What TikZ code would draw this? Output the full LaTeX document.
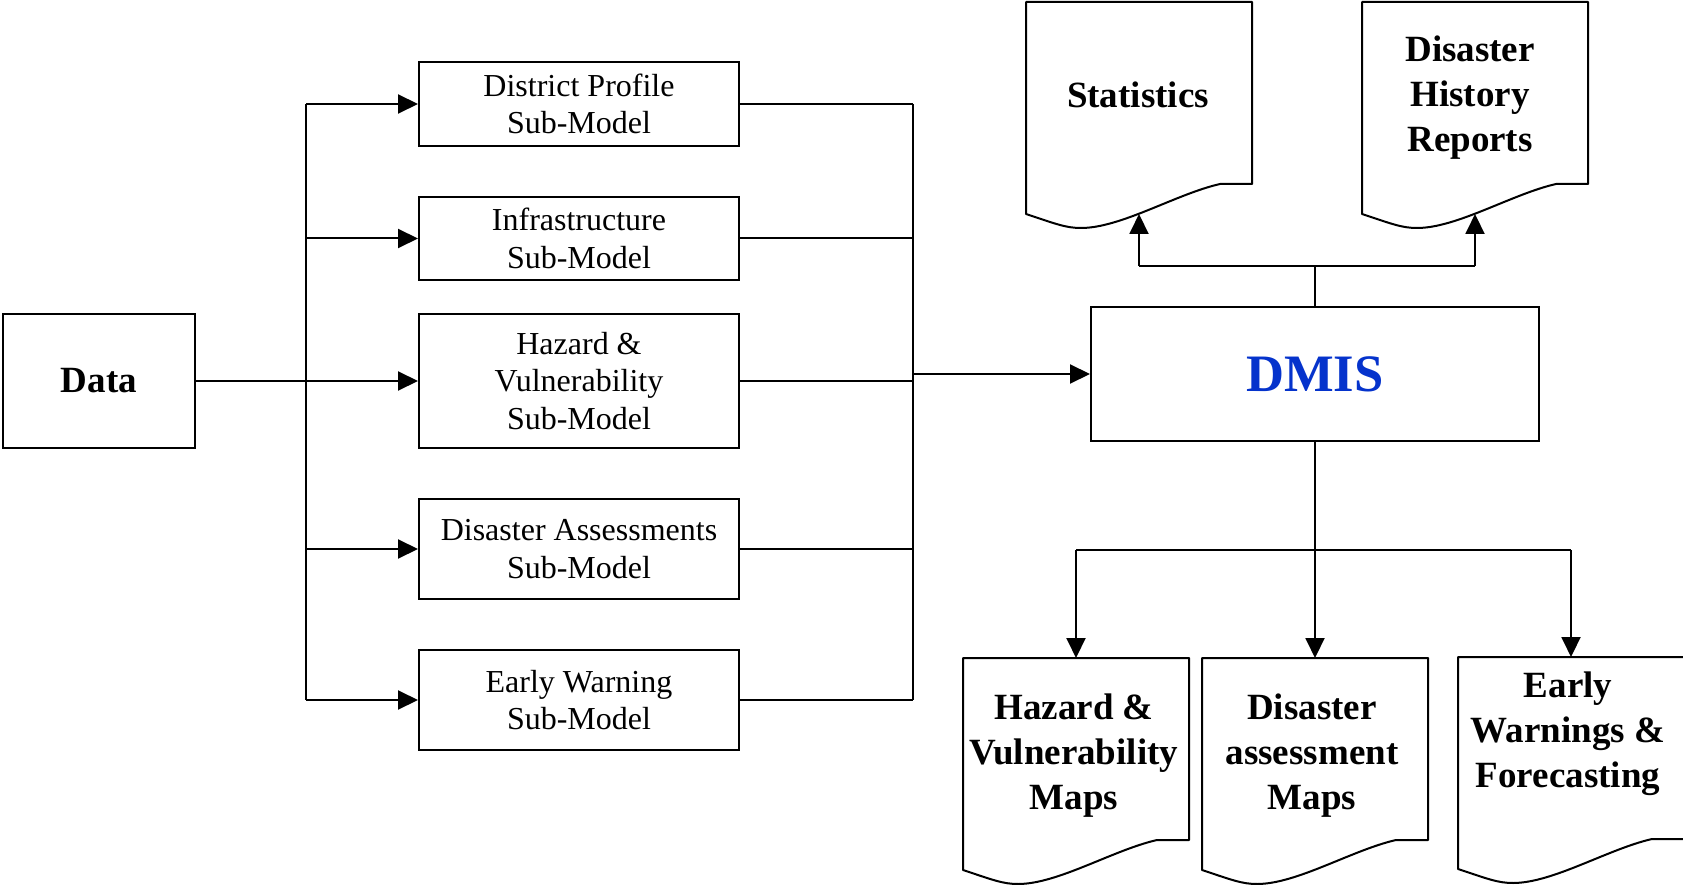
\documentclass[tikz,border=0pt]{standalone}
\usepackage{fontspec}
\setmainfont{Liberation Serif}
\usetikzlibrary{arrows.meta,calc}
\definecolor{dmisblue}{RGB}{5,51,204}
\newcommand\docoutline[1]{%
  \draw[line width=2pt, line join=round] (#1.south east) -- (#1.north east) -- (#1.north west)
    -- ($(#1.south west)+(0,30)$)
    .. controls ($(#1.south west)+(30,40)$) and ($(#1.south west)+(40,44)$) .. ($(#1.south west)+(55,44)$)
    .. controls ($(#1.south west)+(95,44)$) and ($(#1.south west)+(150,10)$) .. ($(#1.south west)+(194,0)$)
    -- cycle;}
\begin{document}
\begin{tikzpicture}[x=1pt,y=-1pt,
  line width=2pt,
  subbox/.style={draw, line width=2pt, minimum width=320pt, anchor=north west, align=center,
    inner sep=0pt, font=\fontsize{32}{37.6}\selectfont},
  bigbox/.style={draw, line width=2pt, anchor=north west, inner sep=0pt},
  docbody/.style={minimum width=224pt, minimum height=180pt, anchor=north west, inner sep=0pt},
  doctext/.style={align=center, inner sep=0pt, font=\fontsize{37}{45}\selectfont\bfseries},
  arr/.style={-{Triangle[length=20pt,width=19pt]}},
  conn/.style={line width=2pt}
]
\useasboundingbox (0,0) rectangle (1683,885);

% left part
\node[bigbox, minimum width=192pt, minimum height=134pt, font=\fontsize{37}{45}\selectfont\bfseries] (data) at (2,313) {Data};

\node[subbox, minimum height=84pt]  (dp) at (418,61)  {District Profile\\Sub-Model};
\node[subbox, minimum height=83pt]  (inf) at (418,196) {Infrastructure\\Sub-Model};
\node[subbox, minimum height=134pt] (hz) at (418,313) {Hazard \&\\Vulnerability\\Sub-Model};
\node[subbox, minimum height=100pt] (da) at (418,498) {Disaster Assessments\\Sub-Model};
\node[subbox, minimum height=100pt] (ew) at (418,649) {Early Warning\\Sub-Model};

\node[bigbox, minimum width=448pt, minimum height=134pt, text=dmisblue,
  font=\fontsize{52.6}{60}\selectfont\bfseries] (dmis) at (1090,306) {DMIS};

% documents
\node[docbody] (stat) at (1026,2) {};
\node[docbody] (hist) at (1362,2) {};
\node[docbody] (hmap) at (963,658) {};
\node[docbody] (dmap) at (1202,658) {};
\node[docbody] (ewmap) at (1458,657) {};
\docoutline{stat}
\docoutline{hist}
\docoutline{hmap}
\docoutline{dmap}
\docoutline{ewmap}

\node[doctext] (statt) at (1138,95) {Statistics};
\node[doctext] (histt) at (1470,98) {Disaster\\History\\Reports};
\node[doctext] (hmapt) at (1074,756) {Hazard \&\\Vulnerability\\Maps};
\node[doctext] (dmapt) at (1312,756) {Disaster\\assessment\\Maps};
\node[doctext] (ewmapt) at (1568,734) {Early\\Warnings \&\\Forecasting};

\coordinate (statw) at ($(stat.south)+(0,30)$);
\coordinate (histw) at ($(hist.south)+(0,30)$);

% buses
\coordinate (lbus) at (306,0);
\coordinate (rbus) at (913,0);
\coordinate (topbus) at (0,266);
\coordinate (botbus) at (0,550);

% left connectors
\draw[conn] (data.east) -- (data.east -| lbus);
\draw[conn] (lbus |- dp.west) -- (lbus |- ew.west);
\foreach \n in {dp,inf,hz,da,ew}{
  \draw[conn,arr] (lbus |- \n.west) -- (\n.west);
  \draw[conn] (\n.east) -- (\n.east -| rbus);
}
\draw[conn] (rbus |- dp.east) -- (rbus |- ew.east);
\draw[conn,arr] (rbus |- dmis.west) -- (dmis.west);

% top connectors
\draw[conn] (dmis.north) -- (dmis.north |- topbus);
\draw[conn] (statw |- topbus) -- (histw |- topbus);
\draw[conn,arr] (statw |- topbus) -- (statw);
\draw[conn,arr] (histw |- topbus) -- (histw);

% bottom connectors
\draw[conn] (dmis.south) -- (dmis.south |- botbus);
\draw[conn] (hmap.north |- botbus) -- (ewmap.north |- botbus);
\draw[conn,arr] (hmap.north |- botbus) -- (hmap.north);
\draw[conn,arr] (dmap.north |- botbus) -- (dmap.north);
\draw[conn,arr] (ewmap.north |- botbus) -- (ewmap.north);
\end{tikzpicture}
\end{document}
